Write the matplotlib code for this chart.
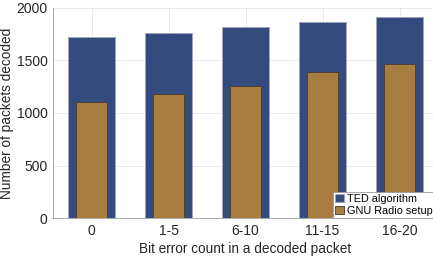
import numpy as np
import matplotlib
matplotlib.use('Agg')
import matplotlib.pyplot as plt

categories = ['0', '1-5', '6-10', '11-15', '16-20']
ted_counts = [1725, 1760, 1822, 1867, 1911]
gnu_counts = [1108, 1178, 1257, 1394, 1467]

plt.rcParams['font.family'] = ['Liberation Sans', 'DejaVu Sans']

fig = plt.figure(figsize=(4.33, 2.63), dpi=100)
# axes runs a bit past the right edge, like the reference
ax = fig.add_axes([53 / 433, 1 - 218 / 263, 385 / 433, 210 / 263])

x = np.arange(1, len(categories) + 1)
ax.bar(x, ted_counts, width=0.6, color='#344b7d', edgecolor='#a0a8b8',
       linewidth=0.6, label='TED algorithm', zorder=2)
ax.bar(x, gnu_counts, width=0.39, color='#a97c42', edgecolor='#4a3a28',
       linewidth=0.6, label='GNU Radio setup', zorder=3)

ax.set_xlim(0.5, 5.5)
ax.set_ylim(0, 2000)
ax.set_xticks(x)
ax.set_xticklabels(categories)
ax.set_yticks([0, 500, 1000, 1500, 2000])
ax.grid(True, color='#e6e6e6', linewidth=0.6, zorder=0)
ax.set_axisbelow(True)
for s in ['top', 'right']:
    ax.spines[s].set_visible(False)
for s in ['left', 'bottom']:
    ax.spines[s].set_color('#9a9a9a')
    ax.spines[s].set_linewidth(0.6)
ax.tick_params(axis='both', length=0, labelsize=10, colors='#262626', pad=4)

ax.set_xlabel('Bit error count in a decoded packet', fontsize=9.8,
              color='#262626', labelpad=3)
ax.set_ylabel('Number of packets decoded', fontsize=9.8, color='#262626',
              labelpad=2)

leg = ax.legend(loc='lower left', bbox_to_anchor=(0.726, 0.0), fontsize=7.8,
                frameon=True, fancybox=False, borderpad=0.2,
                handlelength=0.9, handleheight=0.8, handletextpad=0.2,
                labelspacing=0.2, borderaxespad=0.0)
leg.get_frame().set_edgecolor('#9a9a9a')
leg.get_frame().set_linewidth(0.6)
leg.get_frame().set_alpha(1)

fig.savefig('out.png', dpi=100)
